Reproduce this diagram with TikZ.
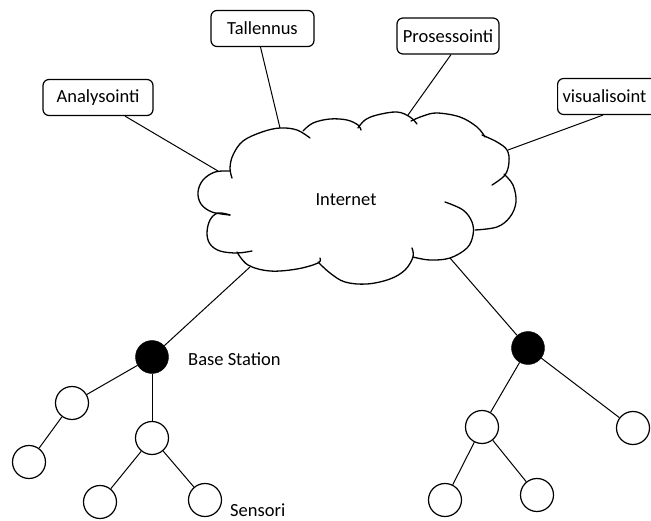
\documentclass[tikz,border=0pt]{standalone}
\usepackage{fontspec}
\setmainfont{Carlito}
\newcommand{\lblfont}{\fontsize{18.5}{22}\selectfont}
\begin{document}
\begin{tikzpicture}[x=1pt,y=-1pt,
  box/.style={draw, rounded corners=6pt, line width=1.2pt, minimum height=36pt, inner sep=0pt, font=\lblfont},
  sensor/.style={circle, draw, line width=1.2pt, minimum size=33pt, inner sep=0pt},
  bsnode/.style={circle, draw, fill=black, minimum size=33pt, inner sep=0pt},
  lobe/.style={line width=1.3pt, line cap=round, smooth, tension=0.6},
  link/.style={line width=1pt},
  lbl/.style={font=\lblfont, inner sep=0pt}]
\useasboundingbox (0,0) rectangle (651,521);
\clip (0,0) rectangle (651,521);

% boxes
\node[box, minimum width=110pt] (ana) at (98,97.5) {Analysointi};
\node[box, minimum width=103pt] (tal) at (262.5,28.5) {Tallennus};
\node[box, minimum width=102pt] (pro) at (448,36) {Prosessointi};
\node[box, anchor=west, text width=90pt, align=left, inner xsep=5pt] (vis) at (557,96.5) {visualisoint};

% cloud
\draw[lobe] plot coordinates {(232,178) (230,168) (233,155) (243,141) (262,132) (280,128) (297,130) (310,138)};
\draw[lobe] plot coordinates {(303,131) (313,123) (330,119) (347,120) (358,125) (361,130)};
\draw[lobe] plot coordinates {(358,128) (365,120) (377,115) (397,112) (410,117) (417,124)};
\draw[lobe] plot coordinates {(411,121) (423,116) (437,113) (460,117) (477,127) (485,137)};
\draw[lobe] plot coordinates {(482,135) (497,142) (507,150) (509,162) (505,175) (492,185)};
\draw[lobe] plot coordinates {(504,174) (513,185) (516,202) (510,217) (497,227) (475,230)};
\draw[lobe] plot coordinates {(445,202) (463,210) (472,222) (473,235) (467,248) (450,258) (430,260) (413,257)};
\draw[lobe] plot coordinates {(412,248) (413,257) (405,270) (390,279) (367,284) (345,282) (330,273) (318,262)};
\draw[lobe] plot coordinates {(320,258) (318,263) (297,269) (270,271) (248,265) (237,252)};
\draw[lobe] plot coordinates {(230,215) (218,213) (210,220) (207,233) (210,244) (220,251) (237,253) (252,251)};
\draw[lobe] plot coordinates {(230,171) (215,172) (203,180) (198,192) (201,204) (212,212) (230,215)};
\node[lbl] (inet) at (346,200) {Internet};

% attachment points on the cloud
\coordinate (cA) at (218,171);
\coordinate (cT) at (280,128);
\coordinate (cP) at (408,115);
\coordinate (cV) at (508,150);
\coordinate (cL) at (250,267);
\coordinate (cR) at (450,258);

\draw[link] ([xshift=27pt]ana.south) -- (cA);
\draw[link] ([xshift=-2pt]tal.south) -- (cT);
\draw[link] ([xshift=3pt]pro.south) -- (cP);
\draw[link] ([xshift=46pt]vis.south west) -- (cV);

% left tree
\node[bsnode] (bs1) at (152,357) {};
\node[sensor] (a) at (72,403) {};
\node[sensor] (b) at (29,462) {};
\node[sensor] (c) at (152,438) {};
\node[sensor] (d) at (100,502) {};
\node[sensor] (e) at (205,500) {};
\draw[link] (cL) -- (bs1);
\draw[link] (bs1) -- (a);
\draw[link] (a) -- (b);
\draw[link] (bs1) -- (c);
\draw[link] (c) -- (d);
\draw[link] (c) -- (e);
\node[lbl, anchor=west] (bslbl) at (188,359) {Base Station};
\node[lbl, anchor=west] (senslbl) at (230,510) {Sensori};

% right tree
\node[bsnode] (bs2) at (528,348) {};
\node[sensor] (f) at (482,427) {};
\node[sensor] (g) at (633,428) {};
\node[sensor] (h) at (445,500) {};
\node[sensor] (i) at (537,495) {};
\draw[link] (cR) -- (bs2);
\draw[link] (bs2) -- (f);
\draw[link] (bs2) -- (g);
\draw[link] (f) -- (h);
\draw[link] (f) -- (i);
\end{tikzpicture}
\end{document}
